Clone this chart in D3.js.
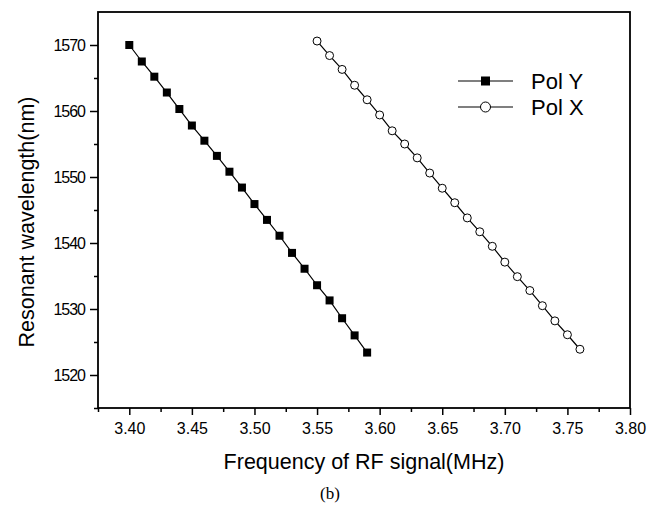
<!DOCTYPE html>
<html>
<head>
<meta charset="utf-8">
<script src="https://cdn.jsdelivr.net/npm/d3@7"></script>
<style>
  body { margin: 0; background: #fff; }
  svg { display: block; font-family: Arial, "Liberation Sans", sans-serif; }
</style>
</head>
<body>
<div id="chart"></div>
<script>
/* Resonant wavelength vs RF frequency, two polarisations */

const polYFreq = [3.40, 3.41, 3.42, 3.43, 3.44, 3.45, 3.46, 3.47, 3.48, 3.49,
                  3.50, 3.51, 3.52, 3.53, 3.54, 3.55, 3.56, 3.57, 3.58, 3.59];
const polYWave = [1570.0, 1567.5, 1565.2, 1562.8, 1560.3, 1557.8, 1555.5, 1553.2, 1550.8, 1548.4,
                  1545.9, 1543.5, 1541.1, 1538.5, 1536.1, 1533.6, 1531.3, 1528.6, 1526.0, 1523.4];

const polXFreq = [3.55, 3.56, 3.57, 3.58, 3.59, 3.60, 3.61, 3.62, 3.63, 3.64, 3.65,
                  3.66, 3.67, 3.68, 3.69, 3.70, 3.71, 3.72, 3.73, 3.74, 3.75, 3.76];
const polXWave = [1570.6, 1568.4, 1566.3, 1563.9, 1561.7, 1559.4, 1557.0, 1555.0, 1552.9, 1550.6, 1548.3,
                  1546.1, 1543.8, 1541.7, 1539.5, 1537.1, 1534.9, 1532.8, 1530.5, 1528.2, 1526.1, 1523.9];

const xTicks = [3.40, 3.45, 3.50, 3.55, 3.60, 3.65, 3.70, 3.75, 3.80];
const yTicks = [1520, 1530, 1540, 1550, 1560, 1570];
const seriesNames = ["Pol Y", "Pol X"];

const width = 652, height = 506;
const margin = { top: 12, right: 22, bottom: 98, left: 98 };

const svg = d3.select("#chart")
  .append("svg")
  .attr("width", width)
  .attr("height", height);

const x = d3.scaleLinear()
  .domain([3.375, 3.80])
  .range([margin.left, width - margin.right]);

const y = d3.scaleLinear()
  .domain([1515, 1575])
  .range([height - margin.bottom, margin.top]);

// Minor ticks (halfway between labels)
const xMinor = d3.range(3.375, 3.80, 0.05);
const yMinor = d3.range(1515, 1575, 10);

svg.append("g")
  .attr("transform", `translate(0, ${height - margin.bottom})`)
  .call(d3.axisBottom(x).tickValues(xMinor).tickSize(4).tickFormat(""))
  .call(g => g.select(".domain").remove())
  .call(g => g.selectAll("line").attr("stroke", "#000").attr("stroke-width", 1.5));

svg.append("g")
  .attr("transform", `translate(${margin.left}, 0)`)
  .call(d3.axisLeft(y).tickValues(yMinor).tickSize(4).tickFormat(""))
  .call(g => g.select(".domain").remove())
  .call(g => g.selectAll("line").attr("stroke", "#000").attr("stroke-width", 1.5));

// Major ticks + labels
svg.append("g")
  .attr("transform", `translate(0, ${height - margin.bottom})`)
  .call(d3.axisBottom(x).tickValues(xTicks).tickSize(7).tickPadding(8).tickFormat(d3.format(".2f")))
  .call(g => g.select(".domain").remove())
  .call(g => g.selectAll("line").attr("stroke", "#000").attr("stroke-width", 1.5))
  .call(g => g.selectAll("text").attr("fill", "#000").attr("font-size", 16)
    .attr("font-family", "Arial, 'Liberation Sans', sans-serif"));

svg.append("g")
  .attr("transform", `translate(${margin.left}, 0)`)
  .call(d3.axisLeft(y).tickValues(yTicks).tickSize(8).tickPadding(5).tickFormat(d3.format("d")))
  .call(g => g.select(".domain").remove())
  .call(g => g.selectAll("line").attr("stroke", "#000").attr("stroke-width", 1.5))
  .call(g => g.selectAll("text").attr("fill", "#000").attr("font-size", 16)
    .attr("letter-spacing", "-1px").attr("font-family", "Arial, 'Liberation Sans', sans-serif"));

// Frame
svg.append("rect")
  .attr("x", margin.left)
  .attr("y", margin.top)
  .attr("width", width - margin.left - margin.right)
  .attr("height", height - margin.top - margin.bottom)
  .attr("fill", "none")
  .attr("stroke", "#000")
  .attr("stroke-width", 1.8);

// Series
const polY = polYFreq.map((f, i) => ({ f, w: polYWave[i] }));
const polX = polXFreq.map((f, i) => ({ f, w: polXWave[i] }));

const line = d3.line()
  .x(d => x(d.f))
  .y(d => y(d.w));

[polY, polX].forEach(data => {
  svg.append("path")
    .datum(data)
    .attr("d", line)
    .attr("fill", "none")
    .attr("stroke", "#000")
    .attr("stroke-width", 1.2);
});

svg.selectAll(".sq")
  .data(polY)
  .join("rect")
  .attr("class", "sq")
  .attr("x", d => x(d.f) - 4)
  .attr("y", d => y(d.w) - 4)
  .attr("width", 8)
  .attr("height", 8)
  .attr("fill", "#000");

svg.selectAll(".ci")
  .data(polX)
  .join("circle")
  .attr("class", "ci")
  .attr("cx", d => x(d.f))
  .attr("cy", d => y(d.w))
  .attr("r", 4)
  .attr("fill", "#fff")
  .attr("stroke", "#000")
  .attr("stroke-width", 1);

// Legend
const legend = svg.append("g").attr("transform", "translate(458, 81)");
seriesNames.forEach((name, i) => {
  const row = legend.append("g").attr("transform", `translate(0, ${i * 26})`);
  row.append("line")
    .attr("x1", 0).attr("x2", 55)
    .attr("stroke", "#000").attr("stroke-width", 1.2);
  if (i === 0) {
    row.append("rect")
      .attr("x", 23).attr("y", -4.5).attr("width", 9).attr("height", 9)
      .attr("fill", "#000");
  } else {
    row.append("circle")
      .attr("cx", 27.5).attr("r", 5)
      .attr("fill", "#fff").attr("stroke", "#000").attr("stroke-width", 1);
  }
  row.append("text")
    .attr("x", 73)
    .attr("y", 8)
    .attr("font-size", 22)
    .attr("fill", "#000")
    .text(name);
});

// Axis titles
svg.append("text")
  .attr("x", (margin.left + width - margin.right) / 2)
  .attr("y", 469)
  .attr("text-anchor", "middle")
  .attr("font-size", 21.5)
  .attr("fill", "#000")
  .text("Frequency of RF signal(MHz)");

svg.append("text")
  .attr("transform", "translate(34, 222) rotate(-90)")
  .attr("text-anchor", "middle")
  .attr("font-size", 21.5)
  .attr("fill", "#000")
  .text("Resonant wavelength(nm)");

svg.append("text")
  .attr("x", 330)
  .attr("y", 499)
  .attr("text-anchor", "middle")
  .attr("font-size", 17)
  .attr("font-family", "'Liberation Serif', 'DejaVu Serif', serif")
  .attr("fill", "#000")
  .text("(b)");
</script>
</body>
</html>
